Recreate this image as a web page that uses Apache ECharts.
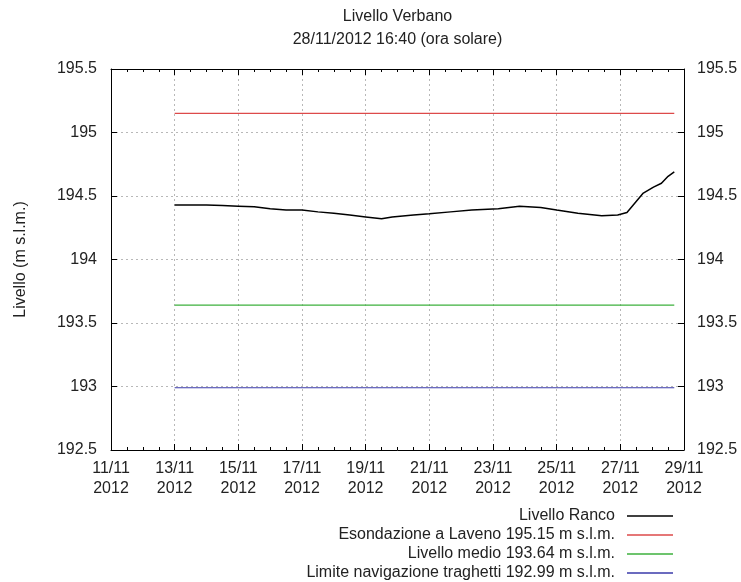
<!DOCTYPE html>
<html>
<head>
<meta charset="utf-8">
<script src="https://cdn.jsdelivr.net/npm/echarts@6/dist/echarts.min.js"></script>
<style>
html,body{margin:0;padding:0;background:#fff;}
#chart{width:741px;height:582px;}
</style>
</head>
<body>
<div id="chart"></div>
<script>
// ---- Data ----
const titleText = 'Livello Verbano';
const subtitleText = '28/11/2012 16:40 (ora solare)';
const axisOrigin = '2012-11-11 00:00';
const xMinDay = 0, xMaxDay = 18, xStepDay = 2;
const yMin = 192.5, yMax = 195.5, yStep = 0.5;

const rancoTimes = [
  '2012-11-13 00:00','2012-11-13 12:00','2012-11-14 00:00','2012-11-14 12:00',
  '2012-11-15 00:00','2012-11-15 12:00','2012-11-16 00:00','2012-11-16 12:00',
  '2012-11-17 00:00','2012-11-17 12:00','2012-11-18 00:00','2012-11-18 12:00',
  '2012-11-19 00:00','2012-11-19 12:00','2012-11-19 20:00','2012-11-20 12:00',
  '2012-11-21 00:00','2012-11-21 16:00','2012-11-22 08:00','2012-11-23 04:00',
  '2012-11-23 20:00','2012-11-24 12:00','2012-11-25 00:00','2012-11-25 16:00',
  '2012-11-26 10:00','2012-11-26 22:00','2012-11-27 05:00','2012-11-27 11:00',
  '2012-11-27 17:00','2012-11-28 01:00','2012-11-28 07:00','2012-11-28 12:00',
  '2012-11-28 16:40'
];
const rancoLevels = [
  194.43, 194.43, 194.43, 194.425,
  194.42, 194.415, 194.40, 194.39,
  194.39, 194.375, 194.365, 194.35,
  194.335, 194.32, 194.335, 194.35,
  194.36, 194.375, 194.39, 194.40,
  194.42, 194.41, 194.39, 194.365,
  194.345, 194.35, 194.37, 194.445,
  194.52, 194.57, 194.60, 194.655,
  194.69
];
const refStart = '2012-11-13 00:00';
const refEnd = '2012-11-28 16:40';
const esondazione = 195.15;
const livelloMedio = 193.64;
const limiteNavigazione = 192.99;

const seriesNames = [
  'Livello Ranco',
  'Esondazione a Laveno 195.15 m s.l.m.',
  'Livello medio 193.64 m s.l.m.',
  'Limite navigazione traghetti 192.99 m s.l.m.'
];
const seriesColors = ['#000000', '#dd4a4a', '#3cb03c', '#3a3aaa'];

// ---- Helpers ----
function parseT(s) {
  const [d, t] = s.split(' ');
  const [Y, M, D] = d.split('-').map(Number);
  const [h, m] = t.split(':').map(Number);
  return Date.UTC(Y, M - 1, D, h, m);
}
const originMs = parseT(axisOrigin);
function toDay(s) { return (parseT(s) - originMs) / 86400000; }
function dayLabel(v) {
  const d = new Date(originMs + v * 86400000);
  const dd = String(d.getUTCDate()).padStart(2, '0');
  const mm = String(d.getUTCMonth() + 1).padStart(2, '0');
  return dd + '/' + mm + '\n' + d.getUTCFullYear();
}

const rancoData = rancoTimes.map((t, i) => [toDay(t), rancoLevels[i]]);
function flat(v) { return [[toDay(refStart), v], [toDay(refEnd), v]]; }

const FONT = '"Liberation Sans", Arial, sans-serif';
const TXT = '#222';
const gridLine = { show: true, lineStyle: { color: '#b8b8b8', type: [2, 3], width: 1 } };

const chart = echarts.init(document.getElementById('chart'), null, { renderer: 'canvas' });

const legendTops = [508, 527, 546, 565];
const legends = seriesNames.map((n, i) => ({
  data: [{ name: n, icon: 'rect', itemStyle: { color: seriesColors[i] } }],
  orient: 'horizontal',
  right: 68,
  top: legendTops[i],
  padding: 0,
  align: 'right',
  itemWidth: 46,
  itemHeight: 1.6,
  selectedMode: false,
  textStyle: { fontFamily: FONT, fontSize: 16, color: TXT, padding: [0, 7, 0, 0], lineHeight: 16 }
}));

const option = {
  animation: false,
  backgroundColor: '#fff',
  textStyle: { fontFamily: FONT },
  title: {
    text: titleText + '\n' + subtitleText,
    left: 397.5,
    top: 5,
    textAlign: 'center',
    padding: 0,
    textStyle: { fontFamily: FONT, fontSize: 16, fontWeight: 'normal', color: TXT, lineHeight: 23 }
  },
  legend: legends,
  grid: { left: 111, right: 57, top: 69, bottom: 132, containLabel: false },
  xAxis: [
    {
      type: 'value', position: 'bottom', min: xMinDay, max: xMaxDay, interval: xStepDay,
      axisLine: { show: true, onZero: false, lineStyle: { color: '#000', width: 1 } },
      axisTick: { show: true, inside: true, length: 6, lineStyle: { color: '#000' } },
      minorTick: { show: true, splitNumber: 4, length: 3, lineStyle: { color: '#000' } },
      splitLine: gridLine,
      axisLabel: { formatter: dayLabel, fontFamily: FONT, fontSize: 16, color: TXT, margin: 9, lineHeight: 20 }
    },
    {
      type: 'value', position: 'top', min: xMinDay, max: xMaxDay, interval: xStepDay,
      axisLine: { show: true, onZero: false, lineStyle: { color: '#000', width: 1 } },
      axisTick: { show: true, inside: true, length: 6, lineStyle: { color: '#000' } },
      minorTick: { show: true, splitNumber: 4, length: 3, lineStyle: { color: '#000' } },
      splitLine: { show: false },
      axisLabel: { show: false }
    }
  ],
  yAxis: [
    {
      type: 'value', position: 'left', min: yMin, max: yMax, interval: yStep,
      name: 'Livello (m s.l.m.)', nameLocation: 'middle', nameGap: 82, nameRotate: 90,
      nameTextStyle: { fontFamily: FONT, fontSize: 16, color: TXT },
      axisLine: { show: true, onZero: false, lineStyle: { color: '#000', width: 1 } },
      axisTick: { show: true, inside: true, length: 6, lineStyle: { color: '#000' } },
      splitLine: gridLine,
      axisLabel: { fontFamily: FONT, fontSize: 16, color: TXT, margin: 14 }
    },
    {
      type: 'value', position: 'right', min: yMin, max: yMax, interval: yStep,
      axisLine: { show: true, onZero: false, lineStyle: { color: '#000', width: 1 } },
      axisTick: { show: true, inside: true, length: 6, lineStyle: { color: '#000' } },
      splitLine: { show: false },
      axisLabel: { fontFamily: FONT, fontSize: 16, color: TXT, margin: 13 }
    }
  ],
  series: [
    { name: seriesNames[0], type: 'line', data: rancoData, symbol: 'none', color: seriesColors[0],
      lineStyle: { color: seriesColors[0], width: 1.5 }, z: 5 },
    { name: seriesNames[1], type: 'line', data: flat(esondazione), symbol: 'none', color: seriesColors[1],
      lineStyle: { color: seriesColors[1], width: 1.2 } },
    { name: seriesNames[2], type: 'line', data: flat(livelloMedio), symbol: 'none', color: seriesColors[2],
      lineStyle: { color: seriesColors[2], width: 1.2 } },
    { name: seriesNames[3], type: 'line', data: flat(limiteNavigazione), symbol: 'none', color: seriesColors[3],
      lineStyle: { color: seriesColors[3], width: 1.2 } }
  ]
};
chart.setOption(option);
</script>
</body>
</html>
